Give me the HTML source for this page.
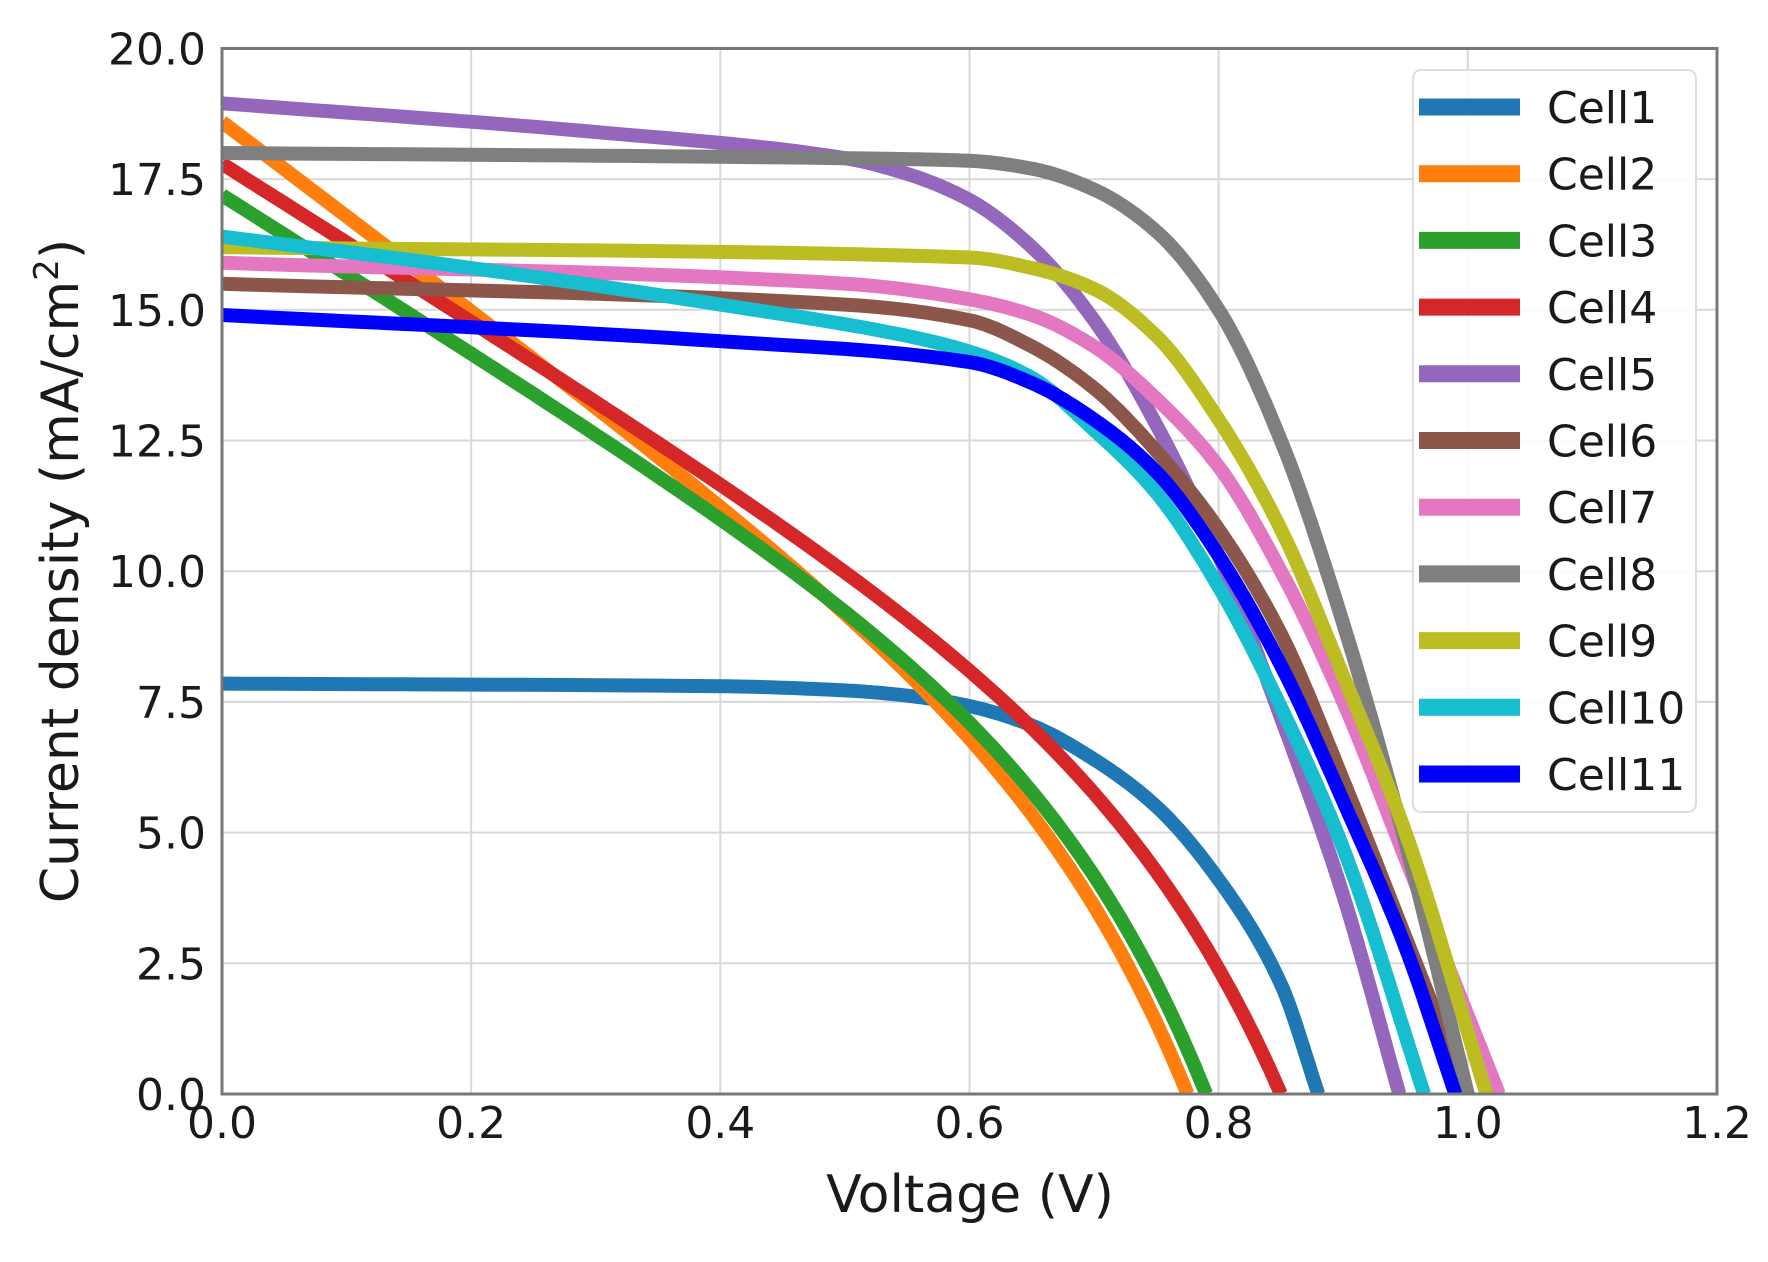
<!DOCTYPE html>
<html><head><meta charset="utf-8">
<style>
html,body{margin:0;padding:0;background:#fff;}
svg{display:block;}
text{font-family:"DejaVu Sans","Liberation Sans",sans-serif;fill:#1a1a1a;}
</style></head>
<body>
<svg id="s" width="1768" height="1262" viewBox="0 0 1768 1262" xmlns="http://www.w3.org/2000/svg">
<defs><clipPath id="c"><rect x="222" y="48" width="1495" height="1047"/></clipPath></defs>
<g id="grid" stroke="#d8d8d8" stroke-width="2"></g>
<g id="curves" clip-path="url(#c)" fill="none" stroke-width="14" stroke-linejoin="round"></g>
<rect x="222" y="48.5" width="1495" height="1045.5" fill="none" stroke="#777" stroke-width="3"/>
<g id="ticks" font-size="44"></g>
<text x="970" y="1212" font-size="52" text-anchor="middle">Voltage (V)</text>
<text transform="translate(78,571) rotate(-90)" font-size="52" text-anchor="middle">Current density (mA/cm<tspan font-size="34" dy="-20">2</tspan><tspan dy="20">)</tspan></text>
<rect x="1413" y="70" width="283" height="742" rx="8" fill="#fff" fill-opacity="0.9" stroke="#ddd" stroke-width="2"/>
<g id="leg" font-size="44"></g>
</svg>
<script>
var X=function(v){return 222+v*1245.8;},Y=function(j){return 1094-j*52.28;};
var g=document.getElementById('grid'),t=document.getElementById('ticks'),NS="http://www.w3.org/2000/svg";
function el(p,n,a,txt){var e=document.createElementNS(NS,n);for(var k in a)e.setAttribute(k,a[k]);if(txt)e.textContent=txt;p.appendChild(e);return e;}
for(var i=0;i<=6;i++){var v=i*0.2,x=X(v);el(g,'line',{x1:x,x2:x,y1:48,y2:1094});el(t,'text',{x:x,y:1138,'text-anchor':'middle'},v.toFixed(1));}
for(var i=0;i<=8;i++){var j=i*2.5,y=Y(j);el(g,'line',{x1:222,x2:1717,y1:y,y2:y});el(t,'text',{x:206,y:y+16,'text-anchor':'end'},j.toFixed(1));}
function model(Js,s,Voc,n){var R=Js-s*Voc,p=[];for(var v=0;v<=Voc+1e-6;v+=0.01)p.push([v,Js-s*v-R*Math.exp((v-Voc)/n)]);p.push([Voc,0]);return p;}
function mono(p){
 var n=p.length,xs=p.map(function(a){return a[0];}),ys=p.map(function(a){return a[1];}),d=[],m=[];
 for(var i=0;i<n-1;i++)d.push((ys[i+1]-ys[i])/(xs[i+1]-xs[i]));
 m[0]=d[0];m[n-1]=d[n-2];
 for(var i=1;i<n-1;i++){if(d[i-1]*d[i]<=0)m[i]=0;else{var w1=2*(xs[i+1]-xs[i])+(xs[i]-xs[i-1]),w2=(xs[i+1]-xs[i])+2*(xs[i]-xs[i-1]);m[i]=(w1+w2)/(w1/d[i-1]+w2/d[i]);}}
 var out=[];
 for(var i=0;i<n-1;i++){var h=xs[i+1]-xs[i];for(var k=0;k<20;k++){var s=k/20,h00=2*s*s*s-3*s*s+1,h10=s*s*s-2*s*s+s,h01=-2*s*s*s+3*s*s,h11=s*s*s-s*s;
  out.push([xs[i]+s*h,h00*ys[i]+h10*h*m[i]+h01*ys[i+1]+h11*h*m[i+1]]);}}
 out.push(p[n-1]);return out;}
var cells=[
["#1f77b4",[[0,7.85],[0.4,7.8],[0.5,7.72],[0.55,7.62],[0.6,7.42],[0.65,7.05],[0.7,6.4],[0.75,5.5],[0.8,4.1],[0.85,2.1],[0.88,0]]],
["#ff7f0e",model(18.6,18,0.775,0.114)],
["#2ca02c",model(17.2,15,0.79,0.12)],
["#d62728",model(17.8,15,0.85,0.127)],
["#9467bd",[[0,18.95],[0.3,18.4],[0.5,17.9],[0.55,17.6],[0.6,17.1],[0.65,16.2],[0.7,14.8],[0.75,12.8],[0.8,10.3],[0.85,7.2],[0.9,3.8],[0.945,0]]],
["#8c564b",[[0,15.5],[0.5,15.1],[0.6,14.8],[0.65,14.3],[0.7,13.5],[0.75,12.3],[0.8,10.8],[0.85,8.8],[0.9,6],[0.95,3],[1.0,0]]],
["#e377c2",[[0,15.9],[0.5,15.5],[0.6,15.2],[0.65,14.9],[0.7,14.3],[0.75,13.3],[0.8,12],[0.85,10],[0.9,7.5],[0.95,4.5],[1.025,0]]],
["#7f7f7f",[[0,18],[0.5,17.9],[0.6,17.85],[0.65,17.7],[0.7,17.3],[0.75,16.5],[0.8,15],[0.85,12.5],[0.9,9],[0.95,4.8],[1.0,0]]],
["#bcbd22",[[0,16.2],[0.6,16.0],[0.65,15.8],[0.7,15.4],[0.75,14.5],[0.8,12.9],[0.85,10.8],[0.9,8],[0.95,5],[1.015,0]]],
["#17becf",[[0,16.4],[0.2,15.8],[0.4,15.1],[0.55,14.5],[0.6,14.2],[0.65,13.7],[0.7,12.7],[0.75,11.5],[0.8,9.7],[0.85,7.4],[0.9,4.7],[0.965,0]]],
["#0000ff",[[0,14.9],[0.4,14.4],[0.6,14.0],[0.65,13.6],[0.7,12.9],[0.75,11.9],[0.8,10.3],[0.85,8.2],[0.9,5.6],[0.95,2.8],[0.99,0]]]];
function path(p){var d="";p.forEach(function(a){d+=(d?"L":"M")+X(a[0]).toFixed(1)+","+Y(a[1]).toFixed(1);});return d;}
var cg=document.getElementById('curves'),lg=document.getElementById('leg');
cells.forEach(function(c,k){
 var pts=(k>=1&&k<=3)?c[1]:mono(c[1]);
 el(cg,'path',{d:path(pts),stroke:c[0]});
 var ly=107+k*66.7;
 el(lg,'line',{x1:1419,x2:1520,y1:ly,y2:ly,stroke:c[0],'stroke-width':17});
 el(lg,'text',{x:1547,y:ly+16},"Cell"+(k+1));
});
</script>
</body></html>
